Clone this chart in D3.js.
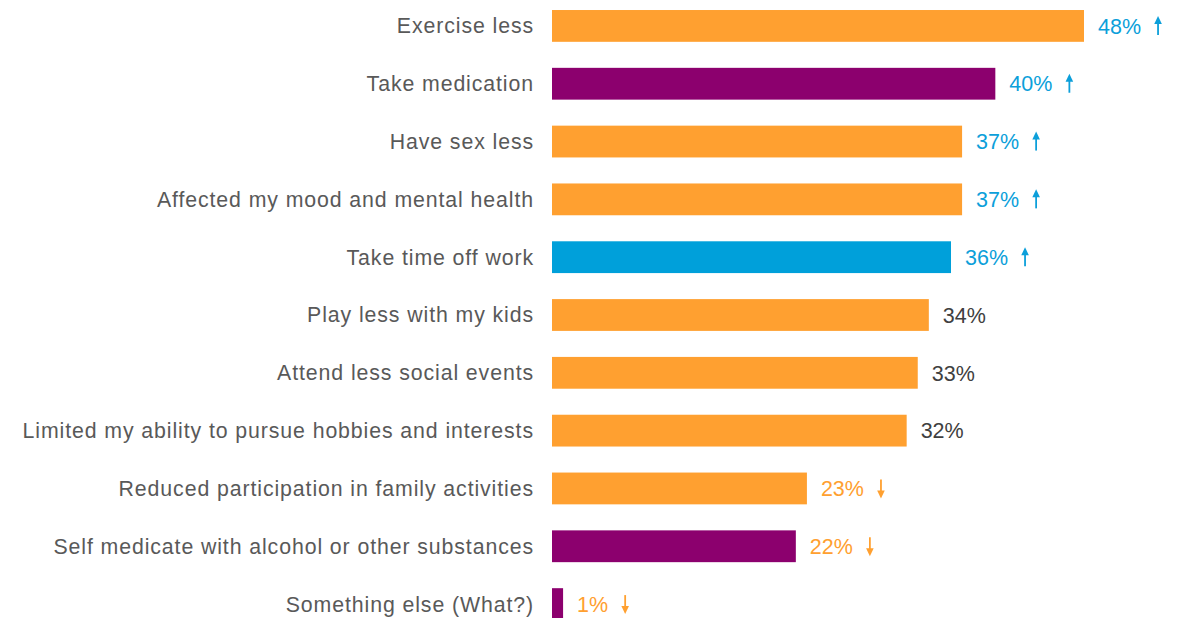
<!DOCTYPE html>
<html>
<head>
<meta charset="utf-8">
<script src="https://cdn.jsdelivr.net/npm/d3@7"></script>
<style>
  html, body { margin: 0; padding: 0; background: #ffffff; }
  svg { display: block; }
</style>
</head>
<body>
<svg id="chart" width="1183" height="618"></svg>
<script>
// Effects reported by respondents
const categories = [
  "Exercise less",
  "Take medication",
  "Have sex less",
  "Affected my mood and mental health",
  "Take time off work",
  "Play less with my kids",
  "Attend less social events",
  "Limited my ability to pursue hobbies and interests",
  "Reduced participation in family activities",
  "Self medicate with alcohol or other substances",
  "Something else (What?)"
];
const values = [48, 40, 37, 37, 36, 34, 33, 32, 23, 22, 1];
// bar colour group: "o" orange, "p" purple, "b" blue
const barGroups = ["o", "p", "o", "o", "b", "o", "o", "o", "o", "p", "p"];
// change versus previous wave: 1 up, -1 down, 0 none
const trends = [1, 1, 1, 1, 1, 0, 0, 0, -1, -1, -1];

const barColor = { o: "#FFA030", p: "#8C006E", b: "#00A0DA" };
const trendColor = { "1": "#0C9FDA", "-1": "#FFA030", "0": "#404040" };

const svg = d3.select("#chart");

const x = d3.scaleLinear().domain([0, 48]).range([552, 1084]);
const y = d3.scaleBand().domain(categories).range([-16, 646]).paddingInner(0.45).paddingOuter(0.45);

const rows = categories.map((c, i) => ({ c, v: values[i], g: barGroups[i], t: trends[i] }));

// bars
svg.append("g").selectAll("rect").data(rows).join("rect")
  .attr("x", x(0))
  .attr("y", d => y(d.c))
  .attr("width", d => x(d.v) - x(0))
  .attr("height", y.bandwidth())
  .attr("fill", d => barColor[d.g]);

// category labels
svg.append("g").selectAll("text").data(rows).join("text")
  .attr("x", 534)
  .attr("y", d => y(d.c) + y.bandwidth() / 2)
  .attr("dy", "0.35em")
  .attr("text-anchor", "end")
  .attr("font-family", "Liberation Sans, Arial, sans-serif")
  .attr("font-size", 21.3)
  .attr("letter-spacing", 0.9)
  .attr("fill", "#595959")
  .text(d => d.c);

// value labels
const vl = svg.append("g").selectAll("g").data(rows).join("g")
  .attr("transform", d => `translate(${x(d.v) + 14},${y(d.c) + y.bandwidth() / 2})`);

vl.append("text")
  .attr("dy", "0.36em")
  .attr("font-family", "Liberation Sans, Arial, sans-serif")
  .attr("font-size", 21.5)
  .attr("fill", d => trendColor[String(d.t)])
  .text(d => d.v + "%")
  .each(function (d) { d.w = this.getComputedTextLength(); });

// trend arrows
const arrows = vl.filter(d => d.t !== 0).append("g")
  .attr("transform", d => `translate(${d.w + 17},0)`)
  .attr("stroke", d => trendColor[String(d.t)])
  .attr("fill", d => trendColor[String(d.t)]);

arrows.append("line")
  .attr("x1", 0).attr("x2", 0)
  .attr("y1", d => d.t > 0 ? -3 : -9)
  .attr("y2", d => d.t > 0 ? 9 : 3)
  .attr("stroke-width", 1.8);

arrows.append("path")
  .attr("stroke", "none")
  .attr("d", d => d.t > 0 ? "M-3.8,-2 L0,-10 L3.8,-2 Z" : "M-3.8,2 L0,10 L3.8,2 Z");
</script>
</body>
</html>
